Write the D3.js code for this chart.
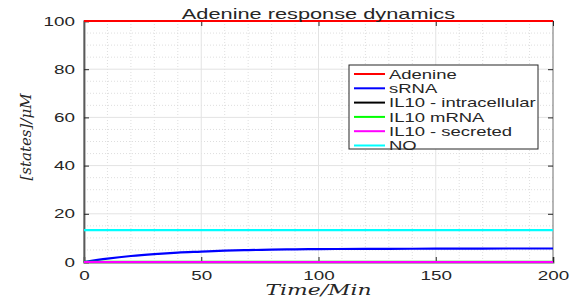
<!DOCTYPE html>
<html>
<head>
<meta charset="utf-8">
<script src="https://cdn.jsdelivr.net/npm/d3@7"></script>
<style>
  body { margin: 0; background: #fff; }
  svg text { font-family: "Liberation Sans", Arial, sans-serif; fill: #262626; }
  .grid-major line { stroke: #e3e3e3; stroke-width: 1; }
  .grid-minor line { stroke: #d6d6d6; stroke-width: 0.8; stroke-dasharray: 1,2; }
</style>
</head>
<body>
<div id="chart"></div>
<script>
// time points (min)
var time = [0, 10, 20, 30, 40, 50, 60, 70, 80, 90, 100, 120, 140, 160, 180, 200];

// series values
var adenine   = [100, 100, 100, 100, 100, 100, 100, 100, 100, 100, 100, 100, 100, 100, 100, 100];
var sRNA      = [0, 1.4, 2.5, 3.3, 3.9, 4.3, 4.7, 4.95, 5.1, 5.25, 5.35, 5.45, 5.5, 5.55, 5.6, 5.6];
var il10Intra = [0, 0, 0, 0, 0, 0, 0, 0, 0, 0, 0, 0, 0, 0, 0, 0];
var il10mRNA  = [0.05, 0.05, 0.05, 0.05, 0.05, 0.05, 0.05, 0.05, 0.05, 0.05, 0.05, 0.05, 0.05, 0.05, 0.05, 0.05];
var il10Sec   = [0, 0, 0, 0, 0, 0, 0, 0, 0, 0, 0, 0, 0, 0, 0, 0];
var no        = [13.2, 13.2, 13.2, 13.2, 13.2, 13.2, 13.2, 13.2, 13.2, 13.2, 13.2, 13.2, 13.2, 13.2, 13.2, 13.2];

var seriesNames  = ["Adenine", "sRNA", "IL10 - intracellular", "IL10 mRNA", "IL10 - secreted", "NO"];
var seriesValues = [adenine, sRNA, il10Intra, il10mRNA, il10Sec, no];
var seriesColors = ["#ff0000", "#0000ff", "#000000", "#00ff00", "#ff00ff", "#00ffff"];

var xTicks = [0, 50, 100, 150, 200];
var yTicks = [0, 20, 40, 60, 80, 100];

var width = 578, height = 308;
var margin = {top: 21, right: 25, bottom: 46, left: 84};
var w = width - margin.left - margin.right,
    h = height - margin.top - margin.bottom;

// the original figure is drawn wide, so text is stretched sideways
function stretch(sel, k) {
  sel.each(function() {
    var len = this.getComputedTextLength();
    d3.select(this).attr("textLength", len * k).attr("lengthAdjust", "spacingAndGlyphs");
  });
}

var svg = d3.select("#chart").append("svg")
    .attr("width", width)
    .attr("height", height);

var g = svg.append("g")
    .attr("transform", "translate(" + margin.left + "," + margin.top + ")");

var x = d3.scaleLinear().domain([0, 200]).range([0, w]);
var y = d3.scaleLinear().domain([0, 100]).range([h, 0]);

// minor grid
g.append("g").attr("class", "grid-minor")
    .selectAll("line")
    .data(d3.range(10, 200, 10).filter(function(d) { return d % 50 !== 0; }))
  .enter().append("line")
    .attr("x1", function(d) { return x(d); }).attr("x2", function(d) { return x(d); })
    .attr("y1", 0).attr("y2", h);

g.append("g").attr("class", "grid-minor")
    .selectAll("line")
    .data(d3.range(5, 100, 5).filter(function(d) { return d % 20 !== 0; }))
  .enter().append("line")
    .attr("y1", function(d) { return y(d); }).attr("y2", function(d) { return y(d); })
    .attr("x1", 0).attr("x2", w);

// major grid
g.append("g").attr("class", "grid-major")
    .selectAll("line")
    .data(xTicks.slice(1, -1))
  .enter().append("line")
    .attr("x1", function(d) { return x(d); }).attr("x2", function(d) { return x(d); })
    .attr("y1", 0).attr("y2", h);

g.append("g").attr("class", "grid-major")
    .selectAll("line")
    .data(yTicks.slice(1, -1))
  .enter().append("line")
    .attr("y1", function(d) { return y(d); }).attr("y2", function(d) { return y(d); })
    .attr("x1", 0).attr("x2", w);

// box (top/right)
g.append("rect")
    .attr("width", w).attr("height", h)
    .attr("fill", "none")
    .attr("stroke", "#6e6e6e")
    .attr("stroke-width", 1);

// axes with inward ticks
var xAxis = d3.axisBottom(x).tickValues(xTicks).tickSize(-5).tickPadding(9);
var yAxis = d3.axisLeft(y).tickValues(yTicks).tickSize(-5).tickPadding(9);
var xTop = d3.axisTop(x).tickValues(xTicks).tickSize(-5).tickFormat("");
var yRight = d3.axisRight(y).tickValues(yTicks).tickSize(-5).tickFormat("");

g.append("g").call(xTop)
    .call(function(s) { s.select(".domain").remove(); s.selectAll("line").attr("stroke", "#262626"); });
g.append("g").attr("transform", "translate(" + w + ",0)").call(yRight)
    .call(function(s) { s.select(".domain").remove(); s.selectAll("line").attr("stroke", "#262626"); });

var gx = g.append("g").attr("transform", "translate(0," + h + ")").call(xAxis);
gx.select(".domain").attr("stroke", "#5a5a5a").attr("stroke-width", 1.8);
gx.selectAll(".tick line").attr("stroke", "#262626");
gx.selectAll("text").style("font-size", "13px").attr("fill", "#262626").call(stretch, 1.45);

var gy = g.append("g").call(yAxis);
gy.select(".domain").attr("stroke", "#5a5a5a").attr("stroke-width", 1.8);
gy.selectAll(".tick line").attr("stroke", "#262626");
gy.selectAll("text").style("font-size", "13px").attr("fill", "#262626").call(stretch, 1.45);

// lines, drawn over the axes
var line = d3.line()
    .x(function(d, i) { return x(time[i]); })
    .y(function(d) { return y(d); })
    .curve(d3.curveMonotoneX);

g.selectAll(".series")
    .data(seriesValues)
  .enter().append("path")
    .attr("class", "series")
    .attr("fill", "none")
    .attr("stroke", function(d, i) { return seriesColors[i]; })
    .attr("stroke-width", 2.2)
    .attr("d", line);

// title
svg.append("text")
    .attr("x", margin.left + w / 2)
    .attr("y", 19)
    .attr("text-anchor", "middle")
    .style("font-size", "15px")
    .attr("fill", "#000")
    .text("Adenine response dynamics")
    .call(stretch, 1.45);

// axis labels
svg.append("text")
    .attr("x", margin.left + w / 2)
    .attr("y", 295)
    .attr("text-anchor", "middle")
    .style("font-family", "'DejaVu Serif', 'Liberation Serif', serif")
    .style("font-style", "italic")
    .style("font-size", "14px")
    .attr("fill", "#000")
    .text("Time/Min")
    .attr("textLength", 106)
    .attr("lengthAdjust", "spacingAndGlyphs");

svg.append("text")
    .attr("transform", "translate(31," + 137 + ") rotate(-90)")
    .attr("text-anchor", "middle")
    .style("font-family", "'DejaVu Serif', 'Liberation Serif', serif")
    .style("font-style", "italic")
    .style("font-size", "14px")
    .attr("fill", "#000")
    .text("[states]/\u03bcM")
    .attr("textLength", 87)
    .attr("lengthAdjust", "spacingAndGlyphs");

// legend
var legend = svg.append("g").attr("transform", "translate(349,65)");
legend.append("rect")
    .attr("width", 189).attr("height", 84)
    .attr("fill", "#fff")
    .attr("stroke", "#262626")
    .attr("stroke-width", 1);

var item = legend.selectAll(".item")
    .data(seriesNames)
  .enter().append("g")
    .attr("transform", function(d, i) { return "translate(0," + (9 + i * 14.3) + ")"; });

item.append("line")
    .attr("x1", 5).attr("x2", 36)
    .attr("stroke", function(d, i) { return seriesColors[i]; })
    .attr("stroke-width", 2);

item.append("text")
    .attr("x", 40)
    .attr("dy", "0.36em")
    .style("font-size", "13px")
    .attr("fill", "#000")
    .text(function(d) { return d; })
    .call(stretch, 1.42);
</script>
</body>
</html>
